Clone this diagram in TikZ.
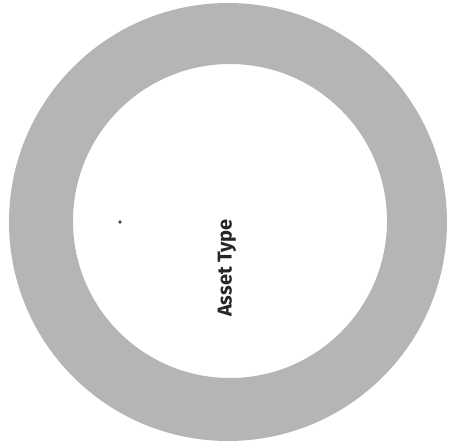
\documentclass[tikz,border=0pt]{standalone}
\usepackage{fontspec}
\setmainfont{Fira Sans}
\definecolor{ringgray}{RGB}{181,181,181}
\begin{document}
\begin{tikzpicture}[x=1pt,y=1pt]
  \useasboundingbox (0,0) rectangle (450,442);
  % grey ring
  \fill[ringgray,even odd rule] (228,220) circle (219) (230,221) circle (157);
  \node[rotate=90,font=\bfseries\fontsize{20}{22}\selectfont,text=black!85] (asset) at (227,174) {Asset Type};
  \fill[black!70] (120,220) circle (1.8);
\end{tikzpicture}
\end{document}
